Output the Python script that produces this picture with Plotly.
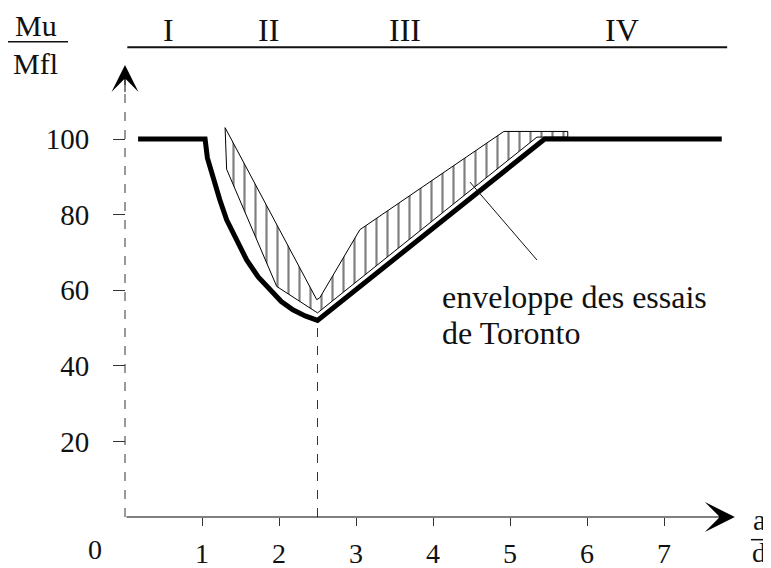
import plotly.graph_objects as go

# a/d values and Mu/Mfl (%)
curve_x = [0.17, 1.04, 1.07, 1.14, 1.23, 1.32, 1.45, 1.58, 1.73, 1.88, 2.03, 2.18, 2.34, 2.5, 5.45, 7.75]
curve_y = [100, 100, 95, 90, 84, 78.6, 73, 68, 63.5, 60, 57, 54.8, 53.2, 52, 100, 100]

# Toronto test envelope (hatched zone)
env_x = [1.30, 2.49, 2.53, 3.05, 4.92, 5.75, 5.75, 5.35, 2.5, 1.97, 1.32, 1.30]
env_y = [103, 57.5, 58, 76, 102, 102, 100.5, 100.5, 54, 61, 92, 103]

x_ticks = [1, 2, 3, 4, 5, 6, 7]
y_ticks = [20, 40, 60, 80, 100]

zones = ["I", "II", "III", "IV"]
zone_x = [0.57, 1.86, 3.64, 6.45]

a_d_min = 2.5
serif = "Liberation Serif"
ink = "#111"

# page body has an 8px margin: figure is sized to fit the window
W, H = 763, 560
x0_px, y0_px = 117, 509          # pixel position of the origin
px_x, px_y = 77, 3.78            # pixels per unit

fig = go.Figure()

fig.add_trace(go.Scatter(
    x=env_x, y=env_y, mode="lines", fill="toself",
    fillpattern=dict(shape="|", fgcolor="black", bgcolor="white", size=11, solidity=0.2),
    line=dict(color="black", width=1), hoverinfo="skip", showlegend=False))

fig.add_trace(go.Scatter(
    x=curve_x, y=curve_y, mode="lines",
    line=dict(color="black", width=5), showlegend=False))

# axes drawn by hand (dashed y axis, arrows)
fig.add_shape(type="line", x0=0, y0=0, x1=0, y1=116, line=dict(color="#333", width=1, dash="dash"))
fig.add_annotation(x=0, y=119.6, ax=0, ay=112, axref="x", ayref="y", text="", showarrow=True,
                   arrowhead=3, arrowsize=4.5, arrowwidth=1, arrowcolor="black")
fig.add_annotation(x=7.92, y=0, ax=0, ay=0, axref="x", ayref="y", text="", showarrow=True,
                   arrowhead=3, arrowsize=5, arrowwidth=1, arrowcolor="black")

# dashed line at the minimum
fig.add_shape(type="line", x0=a_d_min, y0=0, x1=a_d_min, y1=52, line=dict(color="#333", width=1, dash="dash"))

# zone header
fig.add_shape(type="line", x0=0.03, y0=124.3, x1=7.82, y1=124.3, line=dict(color=ink, width=2))
for z, zx in zip(zones, zone_x):
    fig.add_annotation(x=zx, y=128.8, text=z, showarrow=False, font=dict(family=serif, size=32, color=ink))

# axis titles as fractions
fig.add_annotation(x=-1.16, y=129.9, text="Mu", showarrow=False, font=dict(family=serif, size=30, color=ink))
fig.add_shape(type="line", x0=-1.53, y0=125.7, x1=-0.74, y1=125.7, line=dict(color=ink, width=1.5))
fig.add_annotation(x=-1.16, y=120.0, text="Mfl", showarrow=False, font=dict(family=serif, size=30, color=ink))
fig.add_annotation(x=-0.39, y=-8.6, text="0", showarrow=False, font=dict(family=serif, size=28, color=ink))
fig.add_annotation(x=8.24, y=-0.8, text="a", showarrow=False, font=dict(family=serif, size=29, color=ink))
fig.add_shape(type="line", x0=8.13, y0=-6.0, x1=8.36, y1=-6.0, line=dict(color=ink, width=1.5))
fig.add_annotation(x=8.24, y=-9.3, text="d", showarrow=False, font=dict(family=serif, size=28, color=ink))

# label with leader line
fig.add_shape(type="line", x0=4.48, y0=88.6, x1=5.35, y1=68, line=dict(color=ink, width=1))
fig.add_annotation(x=4.09, y=58.2, text="enveloppe des essais", xanchor="left", showarrow=False,
                   font=dict(family=serif, size=32, color=ink))
fig.add_annotation(x=4.09, y=48.7, text="de Toronto", xanchor="left", showarrow=False,
                   font=dict(family=serif, size=32, color=ink))

fig.update_layout(
    width=W, height=H,
    margin=dict(l=0, r=0, t=0, b=0),
    paper_bgcolor="white", plot_bgcolor="white",
    font=dict(family=serif, size=29, color=ink),
    xaxis=dict(range=[-x0_px / px_x, (W - x0_px) / px_x], anchor="free", position=(H - y0_px) / H,
               tickvals=x_ticks, ticktext=[str(v) for v in x_ticks],
               ticks="outside", ticklen=8, tickcolor="#333", ticklabelstandoff=3,
               tickfont=dict(size=28),
               showline=False, showgrid=False, zeroline=False, automargin=False),
    yaxis=dict(range=[-(H - y0_px) / px_y, y0_px / px_y], anchor="free", position=x0_px / W,
               tickvals=y_ticks, ticktext=[str(v) for v in y_ticks],
               ticks="outside", ticklen=12, tickcolor="#333", ticklabelstandoff=18,
               showline=False, showgrid=False, zeroline=False, automargin=False),
)

fig.write_html("out.html")
